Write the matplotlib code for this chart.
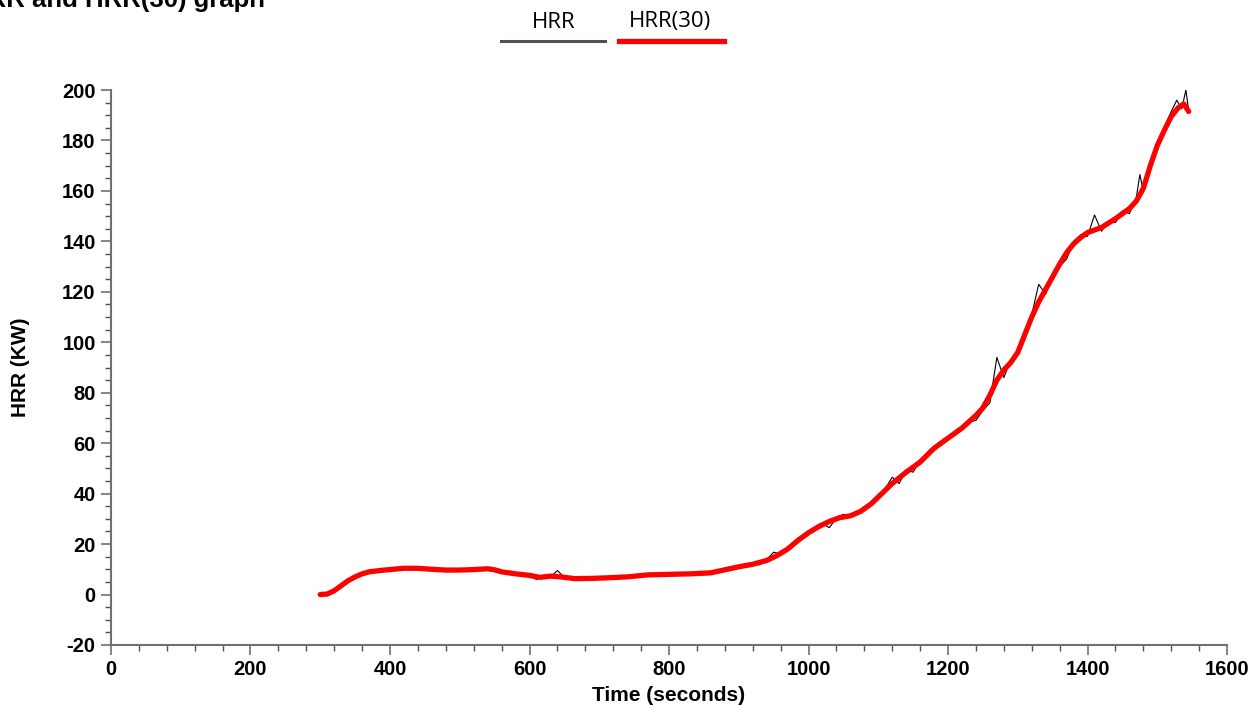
import matplotlib
matplotlib.use("Agg")
import matplotlib.pyplot as plt
from matplotlib.lines import Line2D
from matplotlib.ticker import MultipleLocator

plt.rcParams['axes.unicode_minus'] = False

# raw HRR samples (time s, kW)
hrr_time = [300, 310, 320, 330, 340, 350, 360, 370, 380, 390, 400, 410, 420, 430, 440, 450,
            460, 470, 480, 490, 500, 510, 520, 530, 540, 550, 560, 570, 580, 590, 600, 610,
            620, 630, 640, 650, 660, 670, 680, 690, 700, 710, 720, 730, 740, 750, 760, 770,
            780, 790, 800, 810, 820, 830, 840, 850, 860, 870, 880, 890, 900, 910, 920, 930,
            940, 950, 960, 970, 980, 990, 1000, 1010, 1020, 1030, 1040, 1050, 1060, 1070,
            1080, 1090, 1100, 1110, 1120, 1130, 1140, 1150, 1160, 1170, 1180, 1190, 1200,
            1210, 1220, 1230, 1240, 1250, 1260, 1270, 1280, 1290, 1300, 1310, 1320, 1330,
            1340, 1350, 1360, 1370, 1380, 1390, 1400, 1410, 1420, 1430, 1440, 1450, 1460,
            1470, 1475, 1480, 1490, 1500, 1510, 1520, 1528, 1535, 1541, 1545]
hrr = [0, -0.5, 1.2, 4, 5.8, 6.5, 8.5, 9.6, 9.2, 9.8, 9.6, 10.3, 10.5, 10.9, 9.6, 10.2,
       10.0, 9.6, 9.9, 9.5, 9.8, 10.1, 9.7, 10.0, 10.6, 9.6, 8.5, 8.6, 8.0, 7.9, 7.2, 6.0,
       7.6, 7.0, 9.5, 6.8, 6.5, 6.9, 6.2, 6.5, 6.8, 6.3, 6.9, 6.7, 7.4, 7.1, 7.6, 7.9,
       7.5, 8.1, 7.8, 8.3, 8.0, 8.2, 8.9, 8.1, 8.7, 9.5, 9.6, 10.5, 11.3, 11.4, 12.2, 11.8,
       13.8, 16.8, 16.0, 18.5, 20.0, 23.2, 24.0, 25.5, 28.0, 26.5, 30.5, 31.8, 30.8, 32.5,
       34.2, 36.5, 38.5, 42.0, 46.5, 44.0, 49.5, 48.5, 53.5, 55.0, 58.5, 59.8, 62.5,
       63.0, 66.0, 68.5, 69.0, 73.0, 76.0, 94.0, 86.0, 93.0, 95.0, 101.0, 111.0, 123.0,
       119.0, 127.0, 130.0, 133.0, 140.0, 142.5, 142.0, 150.5, 144.0, 148.0, 147.5, 152.0, 151.0,
       157.5, 166.5, 160.0, 169.0, 177.5, 185.0, 191.5, 196.0, 192.5, 200.0, 192.0]

# 30 s averaged HRR
avg_time = [300, 310, 320, 330, 340, 350, 360, 370, 385, 400, 420, 440, 460, 480, 500, 520,
            540, 550, 560, 580, 600, 615, 630, 645, 665, 690, 710, 740, 770, 800, 830, 860,
            880, 900, 920, 940, 955, 970, 985, 1000, 1015, 1030, 1045, 1060, 1075, 1090,
            1105, 1120, 1140, 1160, 1180, 1200, 1220, 1240, 1250, 1260, 1270, 1280, 1290,
            1300, 1310, 1320, 1330, 1340, 1350, 1360, 1370, 1380, 1390, 1400, 1420, 1440,
            1460, 1470, 1480, 1490, 1500, 1510, 1520, 1530, 1538, 1545]
hrr30 = [0, 0.2, 1.5, 3.5, 5.5, 7, 8.2, 9, 9.5, 9.9, 10.4, 10.4, 10.0, 9.7, 9.7, 9.9,
         10.2, 9.8, 9.0, 8.2, 7.6, 6.8, 7.3, 7.0, 6.3, 6.4, 6.6, 7.0, 7.8, 8.0, 8.2, 8.6,
         9.8, 11.0, 12.0, 13.5, 15.5, 18, 21.5, 24.5, 27, 29, 30.5, 31.2, 33, 36,
         40, 44, 48.5, 52.5, 58, 62, 66, 71, 74, 79, 85, 89, 92,
         96, 103, 110, 116, 121, 126, 131, 135.5, 139, 141.5, 143.5, 145.5, 149,
         153, 156, 161, 170, 178, 184, 189.5, 193, 194.5, 191.5]

fig = plt.figure(figsize=(12.54, 7.09), dpi=100)
ax = fig.add_axes([0.0885, 0.0903, 0.89, 0.7827])

ax.plot(hrr_time, hrr, color='black', linewidth=0.8)
ax.plot(avg_time, hrr30, color='red', linewidth=3.8, solid_capstyle='round')

ax.set_xlim(0, 1600)
ax.set_ylim(-20, 200)
ax.xaxis.set_major_locator(MultipleLocator(200))
ax.xaxis.set_minor_locator(MultipleLocator(40))
ax.yaxis.set_major_locator(MultipleLocator(20))
ax.yaxis.set_minor_locator(MultipleLocator(5))

for side in ['top', 'right']:
    ax.spines[side].set_visible(False)
for side in ['left', 'bottom']:
    ax.spines[side].set_color('#707070')
    ax.spines[side].set_linewidth(1.5)
ax.tick_params(which='major', length=7, width=1.2, color='#707070', direction='out', pad=4)
ax.tick_params(which='minor', length=4, width=1.0, color='#505050', direction='out')

for lbl in ax.get_xticklabels() + ax.get_yticklabels():
    lbl.set_fontfamily('Liberation Sans')
    lbl.set_fontweight('bold')
    lbl.set_fontsize(14.5)

ax.set_xlabel('Time (seconds)', fontfamily='Liberation Sans', fontweight='bold', fontsize=15, labelpad=5)
ax.set_ylabel('HRR (KW)', fontfamily='Liberation Sans', fontweight='bold', fontsize=15, labelpad=23)

# title (partly outside the canvas, as in the source)
fig.text(265 / 1254, 1 - 7 / 709, 'HRR and HRR(30) graph', ha='right', va='baseline',
         fontfamily='Liberation Sans', fontweight='bold', fontsize=18.5)

# legend: label above each line sample
fig.text(554 / 1254, 1 - 22 / 709, 'HRR', ha='center', va='center', fontfamily='Open Sans', fontsize=16)
fig.text(670 / 1254, 1 - 22 / 709, 'HRR(30)', ha='center', va='center', fontfamily='Open Sans', fontsize=16)
fig.add_artist(Line2D([501 / 1254, 605 / 1254], [1 - 41 / 709, 1 - 41 / 709],
                      color='#505050', linewidth=2.2, transform=fig.transFigure))
fig.add_artist(Line2D([619 / 1254, 724 / 1254], [1 - 41 / 709, 1 - 41 / 709],
                      color='red', linewidth=3.8, transform=fig.transFigure))

fig.savefig('out.png', dpi=100)
